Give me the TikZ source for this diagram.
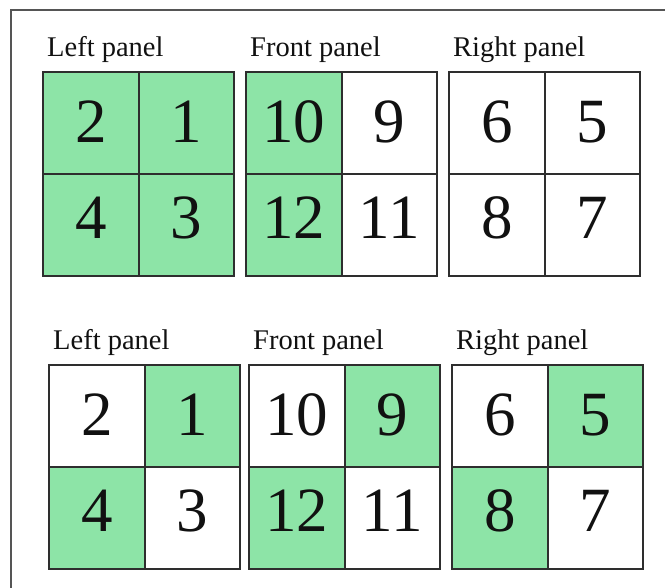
\documentclass[tikz,border=0pt]{standalone}
\usepackage{fontspec}
\setmainfont{Liberation Serif}
\definecolor{ink}{HTML}{111111}
\definecolor{gridline}{HTML}{2E2E2E}
\definecolor{frame}{HTML}{555555}
\definecolor{lit}{HTML}{8DE4A7}
\tikzset{
  cell/.style={draw=gridline,line width=2pt,minimum width=95.5pt,minimum height=102pt,inner sep=0pt},
  num/.style={font=\fontsize{63}{63}\selectfont,text=ink,inner sep=0pt},
  paneltitle/.style={anchor=base west,font=\fontsize{28.5}{28.5}\selectfont,text=ink,inner sep=0pt},
}

\begin{document}
\begin{tikzpicture}[x=1pt,y=-1pt]
  \useasboundingbox (0,0) rectangle (665,588);
  \draw[frame,line width=1.2pt] (11,588) -- (11,10) -- (665,10);

  % One entry per panel: name, left edge, top edge, side, numbers, fills.
  \foreach \name/\px/\py/\side/\a/\b/\c/\d/\fa/\fb/\fc/\fd in {
    tl/43/72/Left/2/1/4/3/lit/lit/lit/lit,
    tf/246/72/Front/10/9/12/11/lit/white/lit/white,
    tr/449/72/Right/6/5/8/7/white/white/white/white,
    bl/49/365/Left/2/1/4/3/white/lit/lit/white,
    bf/249/365/Front/10/9/12/11/white/lit/lit/white,
    br/452/365/Right/6/5/8/7/white/lit/lit/white} {
    \node[paneltitle] (\name-t) at (\px+4,\py-15) {\side{} panel};
    \node[cell,fill=\fa] (\name-a) at (\px+47.75,\py+51) {};
    \node[cell,fill=\fb] (\name-b) at (\px+143.25,\py+51) {};
    \node[cell,fill=\fc] (\name-c) at (\px+47.75,\py+153) {};
    \node[cell,fill=\fd] (\name-d) at (\px+143.25,\py+153) {};
    \node[num,yshift=1pt] (\name-a-n) at (\name-a) {\a};
    \node[num,yshift=1pt] (\name-b-n) at (\name-b) {\b};
    \node[num,yshift=7pt] (\name-c-n) at (\name-c) {\c};
    \node[num,yshift=7pt] (\name-d-n) at (\name-d) {\d};
  }
\end{tikzpicture}
\end{document}
